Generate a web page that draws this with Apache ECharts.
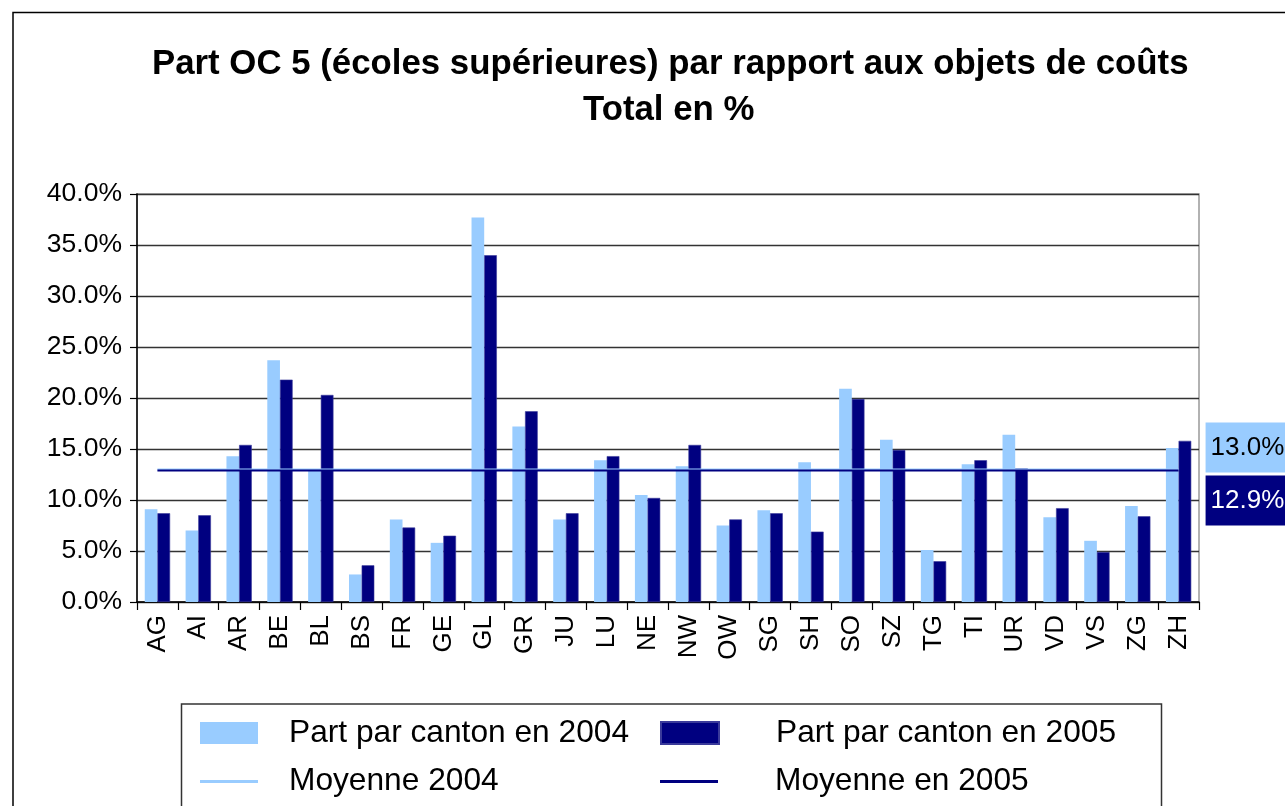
<!doctype html>
<html lang="fr">
<head>
    <meta charset="UTF-8">
    <title>Part OC 5 (écoles supérieures)</title>
    <style>
        html, body {margin: 0; padding: 0; background: #fff;}
        #main {width: 1285px; height: 806px;}
    </style>
</head>
<body>
<div id="main"></div>
<script type="text/javascript" src="https://cdn.jsdelivr.net/npm/echarts@6/dist/echarts.min.js"></script>
<script type="text/javascript">
    // cantons
    let cantons = ['AG', 'AI', 'AR', 'BE', 'BL', 'BS', 'FR', 'GE', 'GL', 'GR', 'JU', 'LU', 'NE',
        'NW', 'OW', 'SG', 'SH', 'SO', 'SZ', 'TG', 'TI', 'UR', 'VD', 'VS', 'ZG', 'ZH'];
    // part en %
    let part2004 = [9.1, 7.0, 14.3, 23.7, 13.0, 2.7, 8.1, 5.8, 37.7, 17.2, 8.1, 13.9, 10.5,
        13.3, 7.5, 9.0, 13.7, 20.9, 15.9, 5.1, 13.5, 16.4, 8.3, 6.0, 9.4, 15.1];
    let part2005 = [8.7, 8.5, 15.4, 21.8, 20.3, 3.6, 7.3, 6.5, 34.0, 18.7, 8.7, 14.3, 10.2,
        15.4, 8.1, 8.7, 6.9, 19.9, 14.9, 4.0, 13.9, 13.1, 9.2, 4.9, 8.4, 15.8];
    let moyenne2004 = 13.0;
    let moyenne2005 = 12.9;
    let yTicks = [0, 5, 10, 15, 20, 25, 30, 35, 40];

    let font = '"Liberation Sans", Arial, sans-serif';
    let light = '#99CCFF', navy = '#000080';
    let first = cantons[0], last = cantons[cantons.length - 1];

    function moyenneLine(name, value, color, labelColor, dy) {
        return {
            name: name,
            type: 'line',
            z: 5,
            symbol: 'circle',
            symbolSize: 0,
            showSymbol: true,
            silent: true,
            color: color,
            itemStyle: {color: color},
            lineStyle: {color: color, width: 2},
            emphasis: {disabled: true},
            label: {show: false},
            data: [
                [first, value],
                {
                    value: [last, value],
                    label: {
                        show: true,
                        position: 'right',
                        distance: 27,
                        offset: [0, dy],
                        formatter: value.toFixed(1) + '%',
                        backgroundColor: color,
                        color: labelColor,
                        fontFamily: font,
                        fontSize: 26,
                        lineHeight: 26,
                        padding: [12, 30, 12, 5]
                    }
                }
            ]
        };
    }

    function legendBox(name, left, top, h, pad) {
        return {
            data: [{name: name, icon: 'rect'}],
            orient: 'vertical',
            left: left,
            top: top,
            padding: 0,
            itemWidth: 58,
            itemHeight: h,
            selectedMode: false,
            textStyle: {fontFamily: font, fontSize: 31.7, lineHeight: 30, color: '#000', padding: [0, 0, 0, pad]}
        };
    }

    function titleLine(text, left, top) {
        return {
            text: text,
            left: left,
            top: top,
            padding: 0,
            textStyle: {fontFamily: font, fontSize: 34.8, fontWeight: 'bold', lineHeight: 46, color: '#000'}
        };
    }

    let myChart = echarts.init(document.getElementById('main'));
    let option = {
        backgroundColor: '#fff',
        animation: false,
        title: [
            titleLine('Part OC 5 (écoles supérieures) par rapport aux objets de coûts', 152, 41),
            titleLine('Total en %', 583, 87)
        ],
        legend: [
            legendBox('Part par canton en 2004', 200, 717, 22, 26),
            legendBox('Moyenne 2004', 200, 765.5, 3, 26),
            legendBox('Part par canton en 2005', 660, 717, 22, 52),
            legendBox('Moyenne en 2005', 660, 765.5, 3, 52)
        ],
        grid: {
            left: 137, right: 86, top: 194, bottom: 204,
            show: true, borderColor: '#999', borderWidth: 1.5
        },
        xAxis: {
            type: 'category',
            data: cantons,
            axisLine: {lineStyle: {color: '#000', width: 1.5}},
            axisTick: {show: true, length: 8, lineStyle: {color: '#000', width: 1.2}},
            axisLabel: {rotate: 90, margin: 13, fontFamily: font, fontSize: 26, color: '#000'}
        },
        yAxis: {
            type: 'value',
            min: yTicks[0],
            max: yTicks[yTicks.length - 1],
            interval: yTicks[1] - yTicks[0],
            axisLine: {show: true, lineStyle: {color: '#000', width: 1.5}},
            axisTick: {show: true, length: 7, lineStyle: {color: '#000', width: 1.2}},
            axisLabel: {
                margin: 15, fontFamily: font, fontSize: 26.5, color: '#000',
                formatter: function (v) { return v.toFixed(1) + '%'; }
            },
            splitLine: {lineStyle: {color: '#333', width: 1.3}}
        },
        series: [
            {
                name: 'Part par canton en 2004',
                type: 'bar',
                barGap: '0%',
                barCategoryGap: '38%',
                itemStyle: {color: light},
                emphasis: {disabled: true},
                data: part2004
            },
            {
                name: 'Part par canton en 2005',
                type: 'bar',
                itemStyle: {color: navy, borderColor: '#3a3a9a', borderWidth: 0.6},
                emphasis: {disabled: true},
                data: part2005
            },
            moyenneLine('Moyenne 2004', moyenne2004, light, '#000', -22),
            moyenneLine('Moyenne en 2005', moyenne2005, navy, '#fff', 30)
        ],
        graphic: [
            {
                type: 'rect', z: 100, silent: true,
                shape: {x: 13, y: 12.5, width: 1400, height: 1000},
                style: {fill: 'none', stroke: '#000', lineWidth: 1.5}
            },
            {
                type: 'rect', z: 100, silent: true,
                shape: {x: 181.5, y: 704, width: 980, height: 120},
                style: {fill: 'none', stroke: '#333', lineWidth: 1.5}
            }
        ]
    };
    myChart.setOption(option);
</script>
</body>
</html>
